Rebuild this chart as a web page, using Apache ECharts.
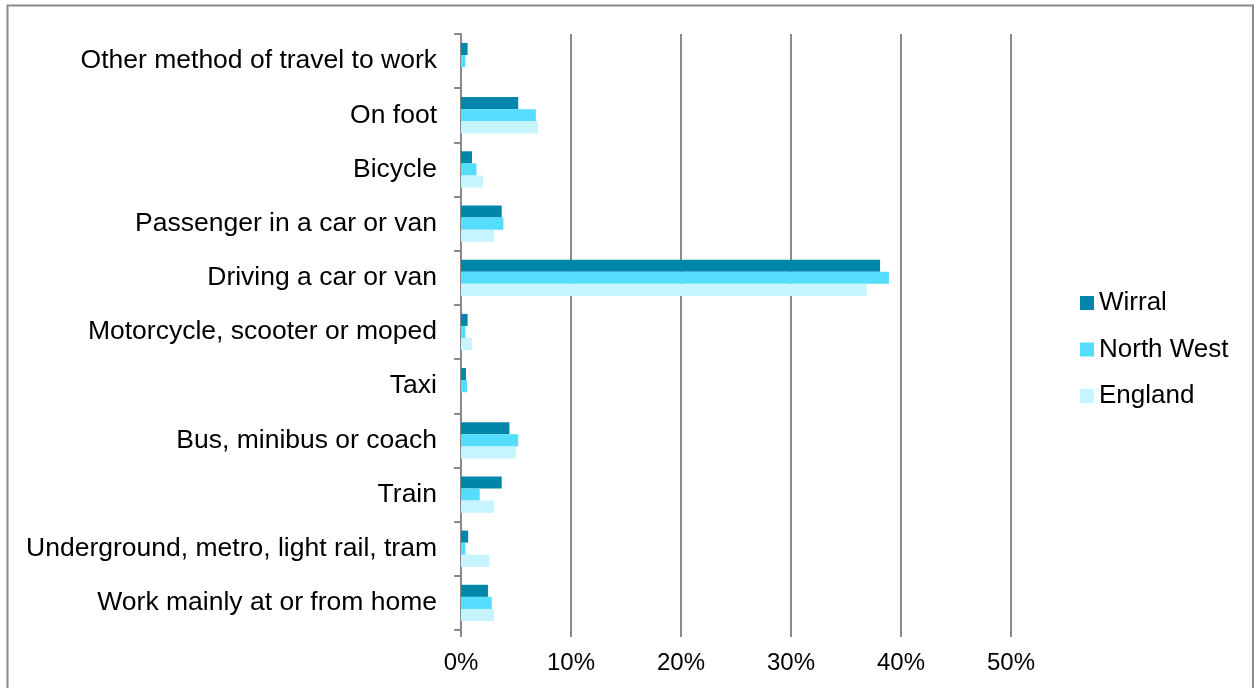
<!DOCTYPE html>
<html>
<head>
<meta charset="utf-8">
<script src="https://cdn.jsdelivr.net/npm/echarts@6/dist/echarts.min.js"></script>
<style>
  html, body { margin: 0; padding: 0; background: #fff; }
  #chart { width: 1259px; height: 688px; }
</style>
</head>
<body>
<div id="chart"></div>
<script>
// Method of travel to work, share of working residents (%)
const categories = [
  'Other method of travel to work',
  'On foot',
  'Bicycle',
  'Passenger in a car or van',
  'Driving a car or van',
  'Motorcycle, scooter or moped',
  'Taxi',
  'Bus, minibus or coach',
  'Train',
  'Underground, metro, light rail, tram',
  'Work mainly at or from home'
];
const wirral    = [0.6, 5.2, 1.0, 3.7, 38.1, 0.6, 0.45, 4.4, 3.7, 0.65, 2.45];
const northWest = [0.4, 6.8, 1.4, 3.85, 38.9, 0.4, 0.55, 5.2, 1.7, 0.4, 2.8];
const england   = [0, 7.0, 2.0, 3.0, 36.9, 1.0, 0, 5.0, 3.0, 2.6, 3.0];
const seriesNames = ['Wirral', 'North West', 'England'];
const xTicks = { min: 0, max: 50, interval: 10 };

const colors = ['#0086A8', '#55DDFF', '#C6F4FF'];
const font = 'Liberation Sans, Arial, sans-serif';

const chart = echarts.init(document.getElementById('chart'), null, { renderer: 'canvas' });
chart.setOption({
  animation: false,
  color: colors,
  textStyle: { fontFamily: font },
  graphic: [{
    type: 'rect',
    shape: { x: 7.5, y: 5.5, width: 1245.5, height: 700 },
    style: { fill: null, stroke: '#8a8a8a', lineWidth: 2 },
    silent: true
  }],
  grid: { left: 461, right: 248, top: 34, bottom: 58 },
  legend: {
    orient: 'vertical',
    left: 1075,
    top: 285,
    itemWidth: 14,
    itemHeight: 14,
    itemGap: 20.5,
    icon: 'rect',
    textStyle: { fontSize: 26, color: '#000', fontFamily: font },
    data: seriesNames
  },
  xAxis: {
    type: 'value',
    min: xTicks.min,
    max: xTicks.max,
    interval: xTicks.interval,
    axisLine: { show: false },
    axisTick: { show: true, length: 7, lineStyle: { color: '#8a8a8a', width: 2 } },
    splitLine: { show: true, lineStyle: { color: '#8a8a8a', width: 2 } },
    axisLabel: {
      formatter: '{value}%',
      fontSize: 24,
      color: '#000',
      fontFamily: font,
      margin: 21
    }
  },
  yAxis: {
    type: 'category',
    inverse: true,
    data: categories,
    axisLine: { show: true, lineStyle: { color: '#8a8a8a', width: 2 } },
    axisTick: { show: true, length: 7, inside: false, lineStyle: { color: '#8a8a8a', width: 2 } },
    axisLabel: { fontSize: 26.5, color: '#000', fontFamily: font, margin: 24 }
  },
  series: [
    { name: seriesNames[0], type: 'bar', data: wirral, barGap: '0%', barCategoryGap: '33%' },
    { name: seriesNames[1], type: 'bar', data: northWest, barGap: '0%', barCategoryGap: '33%' },
    { name: seriesNames[2], type: 'bar', data: england, barGap: '0%', barCategoryGap: '33%' }
  ]
});
</script>
</body>
</html>
